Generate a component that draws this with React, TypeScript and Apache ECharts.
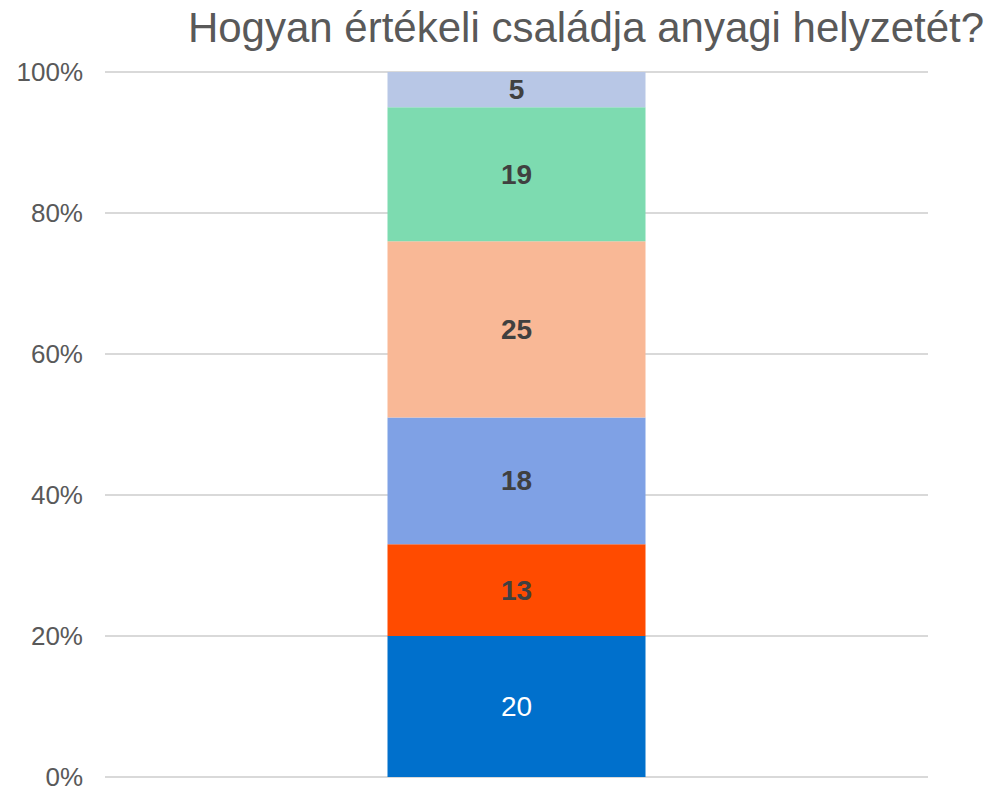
import React, { useEffect, useRef } from "react";
import * as echarts from "echarts";

const categories = ["Összesen"];
const seriesNames = ["1", "2", "3", "4", "5", "6"];
const seriesValues = [20, 13, 18, 25, 19, 5];
const seriesColors = ["#0070CC", "#FF4B00", "#7FA1E5", "#F9B896", "#7DDBB0", "#B8C7E6"];
const yTicks = [0, 20, 40, 60, 80, 100];

export default function App() {
  const ref = useRef<HTMLDivElement>(null);
  useEffect(() => {
    document.body.style.margin = "0";
    const chart = echarts.init(ref.current!, undefined, { renderer: "svg" });
    chart.setOption({
      animation: false,
      title: {
        text: "Hogyan értékeli családja anyagi helyzetét?",
        left: 581,
        textAlign: "center",
        top: 1,
        textStyle: {
          fontFamily: "Liberation Sans, Arial, sans-serif",
          fontSize: 42,
          fontWeight: "normal",
          color: "#595959",
        },
      },
      grid: { left: 105, right: 69, top: 72, bottom: 8 },
      xAxis: {
        type: "category",
        data: categories,
        axisLine: { show: false },
        axisTick: { show: false },
        axisLabel: { show: false },
      },
      yAxis: {
        type: "value",
        min: yTicks[0],
        max: yTicks[yTicks.length - 1],
        interval: 20,
        axisLine: { show: false },
        axisTick: { show: false },
        splitLine: { lineStyle: { color: "#D9D9D9", width: 2 } },
        axisLabel: {
          formatter: "{value}%",
          margin: 22,
          fontFamily: "Liberation Sans, Arial, sans-serif",
          fontSize: 26,
          color: "#595959",
        },
      },
      series: seriesValues.map((v, i) => ({
        name: seriesNames[i],
        type: "bar",
        stack: "total",
        barWidth: 258,
        data: [v],
        itemStyle: { color: seriesColors[i] },
        label: {
          show: true,
          position: "inside",
          fontFamily: "Liberation Sans, Arial, sans-serif",
          fontSize: 28,
          fontWeight: i === 0 ? "normal" : "bold",
          color: i === 0 ? "#FFFFFF" : "#404040",
        },
      })),
    });
    return () => chart.dispose();
  }, []);
  return <div ref={ref} style={{ width: 997, height: 790 }} />;
}
